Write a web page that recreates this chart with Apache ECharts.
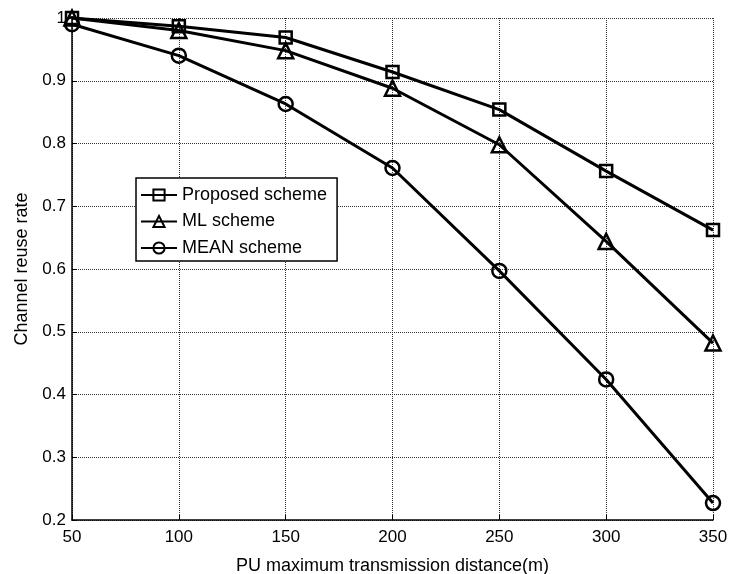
<!DOCTYPE html>
<html>
<head>
<meta charset="utf-8">
<script src="https://cdn.jsdelivr.net/npm/echarts@6/dist/echarts.min.js"></script>
<style>html,body{margin:0;padding:0;background:#fff}#c{width:730px;height:574px}</style>
</head>
<body>
<div id="c"></div>
<script>
const distances = [50, 100, 150, 200, 250, 300, 350];
const proposed = [1.0, 0.987, 0.969, 0.914, 0.854, 0.756, 0.662];
const ml = [1.0, 0.98, 0.948, 0.888, 0.798, 0.644, 0.482];
const meanScheme = [0.99, 0.94, 0.863, 0.761, 0.597, 0.424, 0.227];
const seriesNames = ['Proposed scheme', 'ML scheme', 'MEAN scheme'];
const xTicks = [50, 100, 150, 200, 250, 300, 350];
const yTicks = [0.2, 0.3, 0.4, 0.5, 0.6, 0.7, 0.8, 0.9, 1];

const font = 'Liberation Sans, Arial, sans-serif';
const chart = echarts.init(document.getElementById('c'), null, {renderer: 'canvas'});

function mk(name, data, symbol, size) {
  return {
    name: name,
    type: 'line',
    data: distances.map((d, i) => [d, data[i]]),
    symbol: symbol,
    symbolSize: size,
    showSymbol: true,
    lineStyle: {color: '#000', width: 3},
    itemStyle: {color: 'rgba(255,255,255,0)', borderColor: '#000', borderWidth: 2.5},
    emphasis: {disabled: true},
    animation: false,
    z: 3
  };
}

chart.setOption({
  backgroundColor: '#fff',
  animation: false,
  grid: {left: 72, right: 17, top: 18, bottom: 54, show: false, containLabel: false, outerBoundsMode: 'none'},
  legend: {
    orient: 'vertical',
    left: 136, top: 178,
    data: seriesNames,
    itemWidth: 36, itemHeight: 14, itemGap: 8.5,
    padding: [8, 10, 4, 4],
    borderColor: '#000', borderWidth: 1.5,
    backgroundColor: '#fff',
    textStyle: {fontFamily: font, fontSize: 18, color: '#000', lineHeight: 18},
    selectedMode: false
  },
  xAxis: {
    type: 'value',
    min: xTicks[0], max: xTicks[xTicks.length - 1], interval: 50,
    name: 'PU maximum transmission distance(m)',
    nameLocation: 'middle', nameGap: 37,
    nameTextStyle: {fontFamily: font, fontSize: 18, color: '#000'},
    axisLine: {show: true, lineStyle: {color: '#000', width: 1.5}},
    axisTick: {show: true, inside: true, length: 5, lineStyle: {color: '#000'}},
    axisLabel: {fontFamily: font, fontSize: 17, color: '#000', margin: 9},
    splitLine: {show: true, lineStyle: {color: '#333', type: [1, 1], width: 1}}
  },
  yAxis: {
    type: 'value',
    min: yTicks[0], max: yTicks[yTicks.length - 1], interval: 0.1,
    name: 'Channel reuse rate',
    nameLocation: 'middle', nameGap: 40,
    nameTextStyle: {fontFamily: font, fontSize: 18, color: '#000'},
    axisLine: {show: true, lineStyle: {color: '#000', width: 1.5}},
    axisTick: {show: true, inside: true, length: 5, lineStyle: {color: '#000'}},
    axisLabel: {fontFamily: font, fontSize: 17, color: '#000', margin: 6,
      formatter: v => String(+(+v).toFixed(1))},
    splitLine: {show: true, lineStyle: {color: '#333', type: [1, 1], width: 1}}
  },
  series: [
    mk(seriesNames[0], proposed, 'rect', 12),
    mk(seriesNames[1], ml, 'triangle', 15),
    mk(seriesNames[2], meanScheme, 'circle', 14)
  ]
});
</script>
</body>
</html>
